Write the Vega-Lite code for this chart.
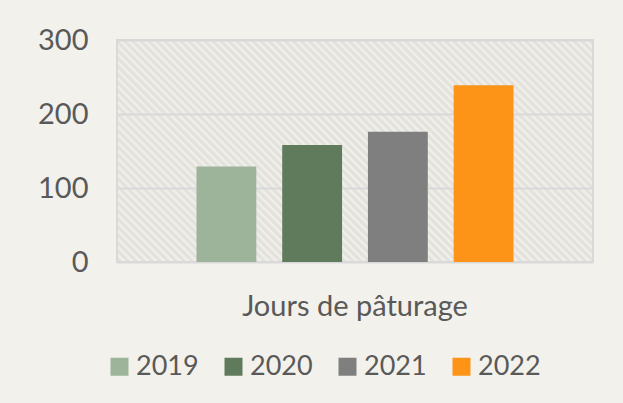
{
  "$schema": "https://vega.github.io/schema/vega-lite/v6.json",
  "width": 476,
  "height": 222,
  "autosize": {"type": "none"},
  "padding": {"left": 117, "top": 40, "right": 30, "bottom": 141},
  "background": "#f2f1ec",
  "data": {
    "values": [
      {"category": "Jours de pâturage", "year": "2019", "days": 129},
      {"category": "Jours de pâturage", "year": "2020", "days": 158},
      {"category": "Jours de pâturage", "year": "2021", "days": 176},
      {"category": "Jours de pâturage", "year": "2022", "days": 239}
    ]
  },
  "mark": {"type": "bar"},
  "encoding": {
    "x": {
      "field": "category",
      "type": "nominal",
      "scale": {"paddingInner": 0, "paddingOuter": 0.194},
      "axis": {"title": null, "labelAngle": 0, "ticks": false, "domain": false, "labelFontSize": 29, "labelColor": "#595959", "labelPadding": 30, "labelFont": "Lato", "labelLimit": 0}
    },
    "xOffset": {
      "field": "year",
      "type": "nominal",
      "scale": {"paddingInner": 0.302, "paddingOuter": 0.151}
    },
    "y": {
      "field": "days",
      "type": "quantitative",
      "scale": {"domain": [0, 300]},
      "axis": {"values": [0, 100, 200, 300], "title": null, "ticks": false, "domain": false, "labelFontSize": 29, "labelColor": "#595959", "labelPadding": 29, "labelFont": "Lato", "gridColor": "#d9d9d9", "gridWidth": 2}
    },
    "color": {
      "field": "year",
      "type": "nominal",
      "scale": {"domain": ["2019", "2020", "2021", "2022"], "range": ["#9db49a", "#5f7b5c", "#7f7f7f", "#fd9317"]},
      "legend": {"title": null, "orient": "none", "legendX": -11, "legendY": 313, "direction": "horizontal", "symbolType": "square", "symbolSize": 324, "symbolStrokeWidth": 0, "symbolOpacity": 1, "labelFontSize": 27, "labelColor": "#595959", "labelFont": "Lato", "labelOffset": 3, "columnPadding": 21, "padding": 0}
    }
  },
  "config": {
    "font": "Lato",
    "view": {
      "stroke": "#d9d9d9",
      "strokeWidth": 2,
      "fill": {
        "gradient": "linear",
        "x1": 0, "y1": 1, "x2": 1.2044, "y2": 0.4383,
        "stops": [
          {"offset": 0, "color": "#f2f1ec"},{"offset": 0.0057, "color": "#dfded9"},{"offset": 0.0115, "color": "#f2f1ec"},{"offset": 0.0172, "color": "#dfded9"},{"offset": 0.0230, "color": "#f2f1ec"},{"offset": 0.0287, "color": "#dfded9"},{"offset": 0.0345, "color": "#f2f1ec"},{"offset": 0.0402, "color": "#dfded9"},{"offset": 0.0460, "color": "#f2f1ec"},{"offset": 0.0517, "color": "#dfded9"},
          {"offset": 0.0575, "color": "#f2f1ec"},{"offset": 0.0632, "color": "#dfded9"},{"offset": 0.0690, "color": "#f2f1ec"},{"offset": 0.0747, "color": "#dfded9"},{"offset": 0.0805, "color": "#f2f1ec"},{"offset": 0.0862, "color": "#dfded9"},{"offset": 0.0920, "color": "#f2f1ec"},{"offset": 0.0977, "color": "#dfded9"},{"offset": 0.1034, "color": "#f2f1ec"},{"offset": 0.1092, "color": "#dfded9"},
          {"offset": 0.1149, "color": "#f2f1ec"},{"offset": 0.1207, "color": "#dfded9"},{"offset": 0.1264, "color": "#f2f1ec"},{"offset": 0.1322, "color": "#dfded9"},{"offset": 0.1379, "color": "#f2f1ec"},{"offset": 0.1437, "color": "#dfded9"},{"offset": 0.1494, "color": "#f2f1ec"},{"offset": 0.1552, "color": "#dfded9"},{"offset": 0.1609, "color": "#f2f1ec"},{"offset": 0.1667, "color": "#dfded9"},
          {"offset": 0.1724, "color": "#f2f1ec"},{"offset": 0.1782, "color": "#dfded9"},{"offset": 0.1839, "color": "#f2f1ec"},{"offset": 0.1897, "color": "#dfded9"},{"offset": 0.1954, "color": "#f2f1ec"},{"offset": 0.2011, "color": "#dfded9"},{"offset": 0.2069, "color": "#f2f1ec"},{"offset": 0.2126, "color": "#dfded9"},{"offset": 0.2184, "color": "#f2f1ec"},{"offset": 0.2241, "color": "#dfded9"},
          {"offset": 0.2299, "color": "#f2f1ec"},{"offset": 0.2356, "color": "#dfded9"},{"offset": 0.2414, "color": "#f2f1ec"},{"offset": 0.2471, "color": "#dfded9"},{"offset": 0.2529, "color": "#f2f1ec"},{"offset": 0.2586, "color": "#dfded9"},{"offset": 0.2644, "color": "#f2f1ec"},{"offset": 0.2701, "color": "#dfded9"},{"offset": 0.2759, "color": "#f2f1ec"},{"offset": 0.2816, "color": "#dfded9"},
          {"offset": 0.2874, "color": "#f2f1ec"},{"offset": 0.2931, "color": "#dfded9"},{"offset": 0.2989, "color": "#f2f1ec"},{"offset": 0.3046, "color": "#dfded9"},{"offset": 0.3103, "color": "#f2f1ec"},{"offset": 0.3161, "color": "#dfded9"},{"offset": 0.3218, "color": "#f2f1ec"},{"offset": 0.3276, "color": "#dfded9"},{"offset": 0.3333, "color": "#f2f1ec"},{"offset": 0.3391, "color": "#dfded9"},
          {"offset": 0.3448, "color": "#f2f1ec"},{"offset": 0.3506, "color": "#dfded9"},{"offset": 0.3563, "color": "#f2f1ec"},{"offset": 0.3621, "color": "#dfded9"},{"offset": 0.3678, "color": "#f2f1ec"},{"offset": 0.3736, "color": "#dfded9"},{"offset": 0.3793, "color": "#f2f1ec"},{"offset": 0.3851, "color": "#dfded9"},{"offset": 0.3908, "color": "#f2f1ec"},{"offset": 0.3966, "color": "#dfded9"},
          {"offset": 0.4023, "color": "#f2f1ec"},{"offset": 0.4080, "color": "#dfded9"},{"offset": 0.4138, "color": "#f2f1ec"},{"offset": 0.4195, "color": "#dfded9"},{"offset": 0.4253, "color": "#f2f1ec"},{"offset": 0.4310, "color": "#dfded9"},{"offset": 0.4368, "color": "#f2f1ec"},{"offset": 0.4425, "color": "#dfded9"},{"offset": 0.4483, "color": "#f2f1ec"},{"offset": 0.4540, "color": "#dfded9"},
          {"offset": 0.4598, "color": "#f2f1ec"},{"offset": 0.4655, "color": "#dfded9"},{"offset": 0.4713, "color": "#f2f1ec"},{"offset": 0.4770, "color": "#dfded9"},{"offset": 0.4828, "color": "#f2f1ec"},{"offset": 0.4885, "color": "#dfded9"},{"offset": 0.4943, "color": "#f2f1ec"},{"offset": 0.5000, "color": "#dfded9"},{"offset": 0.5057, "color": "#f2f1ec"},{"offset": 0.5115, "color": "#dfded9"},
          {"offset": 0.5172, "color": "#f2f1ec"},{"offset": 0.5230, "color": "#dfded9"},{"offset": 0.5287, "color": "#f2f1ec"},{"offset": 0.5345, "color": "#dfded9"},{"offset": 0.5402, "color": "#f2f1ec"},{"offset": 0.5460, "color": "#dfded9"},{"offset": 0.5517, "color": "#f2f1ec"},{"offset": 0.5575, "color": "#dfded9"},{"offset": 0.5632, "color": "#f2f1ec"},{"offset": 0.5690, "color": "#dfded9"},
          {"offset": 0.5747, "color": "#f2f1ec"},{"offset": 0.5805, "color": "#dfded9"},{"offset": 0.5862, "color": "#f2f1ec"},{"offset": 0.5920, "color": "#dfded9"},{"offset": 0.5977, "color": "#f2f1ec"},{"offset": 0.6034, "color": "#dfded9"},{"offset": 0.6092, "color": "#f2f1ec"},{"offset": 0.6149, "color": "#dfded9"},{"offset": 0.6207, "color": "#f2f1ec"},{"offset": 0.6264, "color": "#dfded9"},
          {"offset": 0.6322, "color": "#f2f1ec"},{"offset": 0.6379, "color": "#dfded9"},{"offset": 0.6437, "color": "#f2f1ec"},{"offset": 0.6494, "color": "#dfded9"},{"offset": 0.6552, "color": "#f2f1ec"},{"offset": 0.6609, "color": "#dfded9"},{"offset": 0.6667, "color": "#f2f1ec"},{"offset": 0.6724, "color": "#dfded9"},{"offset": 0.6782, "color": "#f2f1ec"},{"offset": 0.6839, "color": "#dfded9"},
          {"offset": 0.6897, "color": "#f2f1ec"},{"offset": 0.6954, "color": "#dfded9"},{"offset": 0.7011, "color": "#f2f1ec"},{"offset": 0.7069, "color": "#dfded9"},{"offset": 0.7126, "color": "#f2f1ec"},{"offset": 0.7184, "color": "#dfded9"},{"offset": 0.7241, "color": "#f2f1ec"},{"offset": 0.7299, "color": "#dfded9"},{"offset": 0.7356, "color": "#f2f1ec"},{"offset": 0.7414, "color": "#dfded9"},
          {"offset": 0.7471, "color": "#f2f1ec"},{"offset": 0.7529, "color": "#dfded9"},{"offset": 0.7586, "color": "#f2f1ec"},{"offset": 0.7644, "color": "#dfded9"},{"offset": 0.7701, "color": "#f2f1ec"},{"offset": 0.7759, "color": "#dfded9"},{"offset": 0.7816, "color": "#f2f1ec"},{"offset": 0.7874, "color": "#dfded9"},{"offset": 0.7931, "color": "#f2f1ec"},{"offset": 0.7989, "color": "#dfded9"},
          {"offset": 0.8046, "color": "#f2f1ec"},{"offset": 0.8103, "color": "#dfded9"},{"offset": 0.8161, "color": "#f2f1ec"},{"offset": 0.8218, "color": "#dfded9"},{"offset": 0.8276, "color": "#f2f1ec"},{"offset": 0.8333, "color": "#dfded9"},{"offset": 0.8391, "color": "#f2f1ec"},{"offset": 0.8448, "color": "#dfded9"},{"offset": 0.8506, "color": "#f2f1ec"},{"offset": 0.8563, "color": "#dfded9"},
          {"offset": 0.8621, "color": "#f2f1ec"},{"offset": 0.8678, "color": "#dfded9"},{"offset": 0.8736, "color": "#f2f1ec"},{"offset": 0.8793, "color": "#dfded9"},{"offset": 0.8851, "color": "#f2f1ec"},{"offset": 0.8908, "color": "#dfded9"},{"offset": 0.8966, "color": "#f2f1ec"},{"offset": 0.9023, "color": "#dfded9"},{"offset": 0.9080, "color": "#f2f1ec"},{"offset": 0.9138, "color": "#dfded9"},
          {"offset": 0.9195, "color": "#f2f1ec"},{"offset": 0.9253, "color": "#dfded9"},{"offset": 0.9310, "color": "#f2f1ec"},{"offset": 0.9368, "color": "#dfded9"},{"offset": 0.9425, "color": "#f2f1ec"},{"offset": 0.9483, "color": "#dfded9"},{"offset": 0.9540, "color": "#f2f1ec"},{"offset": 0.9598, "color": "#dfded9"},{"offset": 0.9655, "color": "#f2f1ec"},{"offset": 0.9713, "color": "#dfded9"},
          {"offset": 0.9770, "color": "#f2f1ec"},{"offset": 0.9828, "color": "#dfded9"},{"offset": 0.9885, "color": "#f2f1ec"},{"offset": 0.9943, "color": "#dfded9"},{"offset": 1, "color": "#f2f1ec"}
        ]
      }
    }
  }
}
